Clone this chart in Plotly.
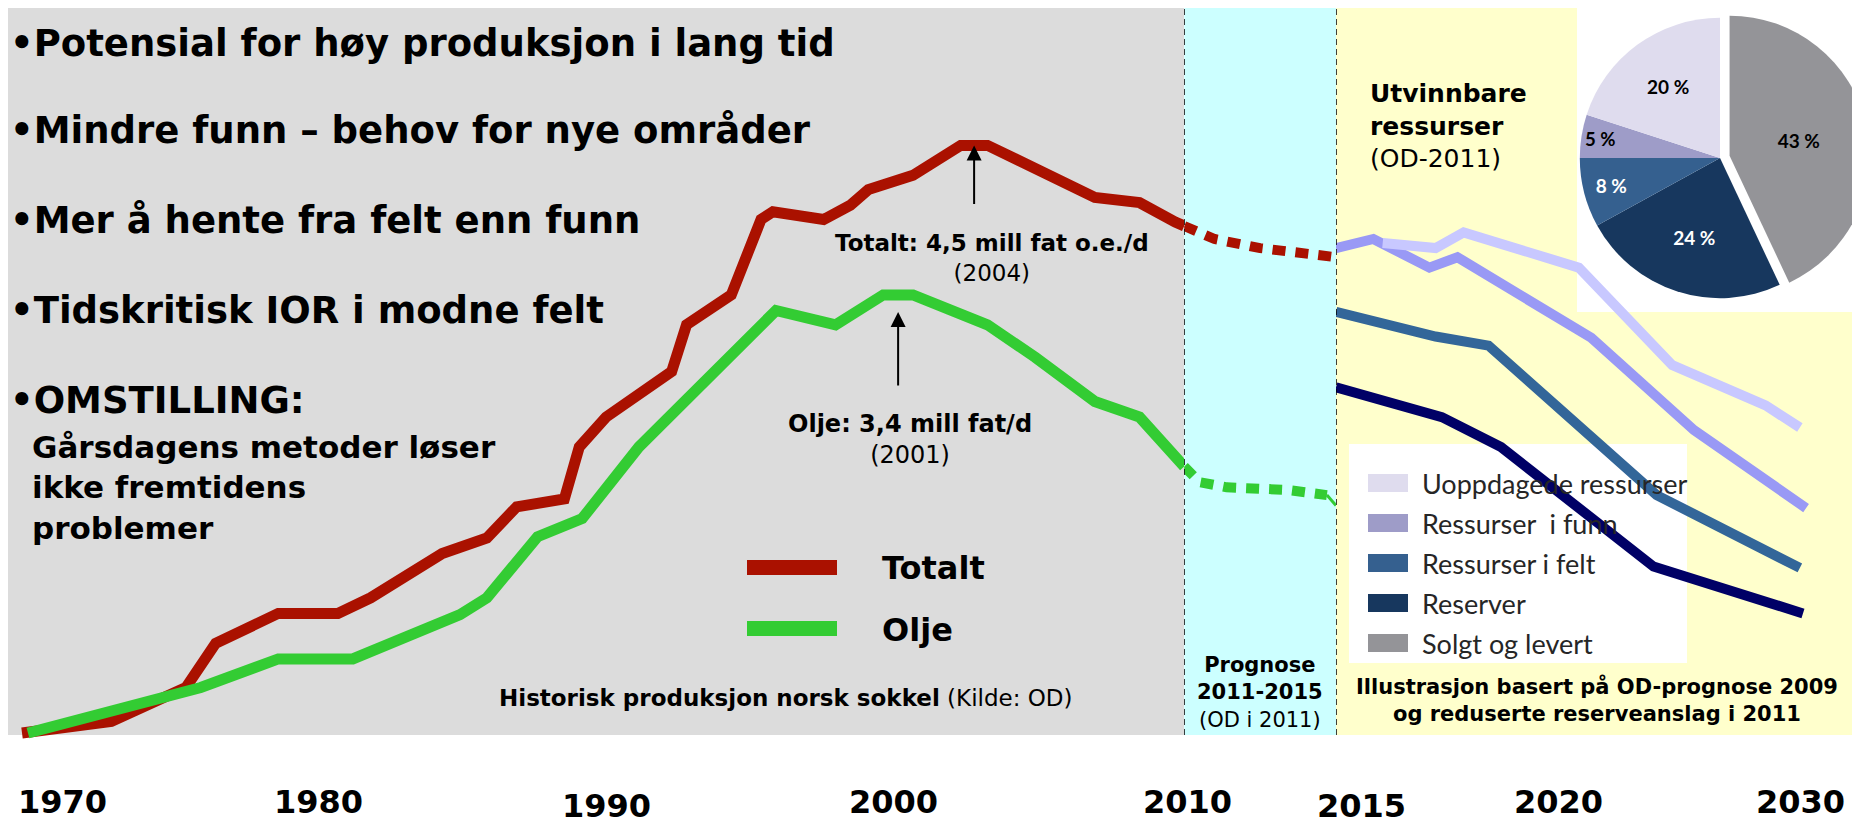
import plotly.graph_objects as go

# --- data (mill fat o.e. per day) ---
total_years = [1971.0, 1974.0, 1976.5, 1977.5, 1979.6, 1981.6, 1982.7, 1985.1, 1986.6, 1987.6,
               1989.2, 1989.7, 1990.6, 1992.8, 1993.3, 1994.8, 1995.8, 1996.2, 1997.9, 1998.8,
               1999.4, 2000.9, 2002.5, 2003.4, 2007.0, 2008.0, 2008.5, 2009.7, 2010.0]
total_prod = [0.00, 0.09, 0.35, 0.69, 0.92, 0.92, 1.04, 1.38, 1.50, 1.74,
              1.80, 2.20, 2.43, 2.78, 3.14, 3.37, 3.95, 4.01, 3.95, 4.06,
              4.18, 4.29, 4.52, 4.52, 4.12, 4.08, 4.08, 3.93, 3.90]

oil_years = [1971.2, 1977.0, 1979.6, 1982.1, 1985.7, 1986.6, 1988.3, 1989.8, 1991.7,
             1996.3, 1998.3, 1999.9, 2000.9, 2003.4, 2005.0, 2007.0, 2008.5, 2010.0]
oil_prod = [0.00, 0.35, 0.57, 0.57, 0.91, 1.04, 1.51, 1.65, 2.20,
            3.25, 3.14, 3.37, 3.37, 3.14, 2.89, 2.55, 2.43, 2.05]

# prognose 2011-2015
total_prog_years = [2010.0, 2011.0, 2012.5, 2015.0]
total_prog = [3.90, 3.80, 3.73, 3.66]
oil_prog_years = [2010.0, 2010.5, 2011.4, 2013.4, 2014.7]
oil_prog = [2.05, 1.93, 1.89, 1.87, 1.83]
oil_tail_years = [2014.7, 2015.0]
oil_tail = [1.83, 1.75]

# illustrasjon 2015-2030
undiscovered_years = [2016.5, 2018.2, 2019.1, 2022.8, 2025.8, 2028.8, 2029.9]
undiscovered = [3.77, 3.73, 3.85, 3.58, 2.83, 2.52, 2.35]
discoveries_years = [2015.0, 2016.2, 2018.0, 2018.9, 2023.2, 2026.5, 2030.1]
discoveries = [3.73, 3.80, 3.58, 3.66, 3.04, 2.33, 1.73]
fields_years = [2015.0, 2018.2, 2019.9, 2025.3, 2029.9]
fields = [3.24, 3.05, 2.98, 1.83, 1.27]
reserves_years = [2015.0, 2018.4, 2020.3, 2025.2, 2030.0]
reserves = [2.66, 2.43, 2.20, 1.28, 0.92]

# utvinnbare ressurser (OD-2011)
pie_labels = ["Solgt og levert", "Reserver", "Ressurser i felt", "Ressurser  i funn", "Uoppdagede ressurser"]
pie_values = [43, 24, 8, 5, 20]
pie_colors = ["#949498", "#17375e", "#35608f", "#9e9cc8", "#dfdcee"]
pie_text_colors = ["black", "white", "white", "black", "black"]
legend_order = ["Uoppdagede ressurser", "Ressurser  i funn", "Ressurser i felt", "Reserver", "Solgt og levert"]

year_labels = ["1970", "1980", "1990", "2000", "2010", "2015", "2020", "2030"]

bullets = ["•Potensial for høy produksjon i lang tid",
           "•Mindre funn – behov for nye områder",
           "•Mer å hente fra felt enn funn",
           "•Tidskritisk IOR i modne felt",
           "•OMSTILLING:"]

# --- layout geometry, in page pixels (the page puts the figure 8px in from the corner) ---
OFF = 8
W, H = 1870, 816
PLOT_BOTTOM = 750          # page y where the drawing area ends
PLOT_H = PLOT_BOTTOM - OFF
HIST_END = 1184.2
PROG_END = 1336
FONT = "DejaVu Sans"

RED = "#aa1100"
GREEN = "#33cc33"


def fx(p):
    return (p - OFF) / W


def fy(p):
    return (PLOT_BOTTOM - p) / PLOT_H


fig = go.Figure()

# historic
fig.add_trace(go.Scatter(x=total_years, y=total_prod, mode="lines",
                         line=dict(color=RED, width=11), xaxis="x", yaxis="y"))
fig.add_trace(go.Scatter(x=oil_years, y=oil_prod, mode="lines",
                         line=dict(color=GREEN, width=11), xaxis="x", yaxis="y"))
# prognose
fig.add_trace(go.Scatter(x=total_prog_years, y=total_prog, mode="lines",
                         line=dict(color=RED, width=10, dash="13px,10px"), xaxis="x2", yaxis="y"))
fig.add_trace(go.Scatter(x=oil_prog_years, y=oil_prog, mode="lines",
                         line=dict(color=GREEN, width=10, dash="13px,10px"), xaxis="x2", yaxis="y"))
fig.add_trace(go.Scatter(x=oil_tail_years, y=oil_tail, mode="lines",
                         line=dict(color=GREEN, width=3), xaxis="x2", yaxis="y"))
# future
for xs, ys, col in [(reserves_years, reserves, "#000066"),
                    (fields_years, fields, "#336699"),
                    (discoveries_years, discoveries, "#9999f5"),
                    (undiscovered_years, undiscovered, "#c8c8ff")]:
    fig.add_trace(go.Scatter(x=xs, y=ys, mode="lines", line=dict(color=col, width=10),
                             xaxis="x3", yaxis="y"))

fig.add_trace(go.Pie(
    labels=pie_labels, values=pie_values, sort=False, direction="clockwise", rotation=0,
    pull=[0.07, 0, 0, 0, 0],
    marker=dict(colors=pie_colors, line=dict(width=0)),
    texttemplate="<b>%{value} %</b>", textposition="inside", insidetextorientation="horizontal",
    textfont=dict(family="Lato", size=19, color=pie_text_colors),
    domain=dict(x=[fx(1570), fx(1870)], y=[fy(308), fy(8)]),
    showlegend=False, hoverinfo="skip"))

shapes = [
    dict(type="rect", xref="x", yref="paper", x0=1970.53, x1=2010, y0=fy(735), y1=1.0,
         fillcolor="#dcdcdc", line_width=0, layer="below"),
    dict(type="rect", xref="x2", yref="paper", x0=2010, x1=2015, y0=fy(735), y1=1.0,
         fillcolor="#ccffff", line_width=0, layer="below"),
    dict(type="rect", xref="x3", yref="paper", x0=2015, x1=2032.41, y0=fy(735), y1=1.0,
         fillcolor="#ffffcc", line_width=0, layer="below"),
    dict(type="rect", xref="paper", yref="paper", x0=fx(1577), x1=1.0, y0=fy(312), y1=1.0,
         fillcolor="white", line_width=0, layer="below"),
    dict(type="rect", xref="paper", yref="paper", x0=fx(1349), x1=fx(1687), y0=fy(663), y1=fy(444),
         fillcolor="white", line_width=0, layer="below"),
    dict(type="line", xref="x2", yref="paper", x0=2010, x1=2010, y0=fy(735), y1=1.0,
         line=dict(color="black", width=1.5, dash="6px,4px"), layer="above"),
    dict(type="line", xref="x3", yref="paper", x0=2015, x1=2015, y0=fy(735), y1=1.0,
         line=dict(color="black", width=1.5, dash="6px,4px"), layer="above"),
    # Totalt / Olje key
    dict(type="rect", xref="paper", yref="paper", x0=fx(747), x1=fx(837), y0=fy(575), y1=fy(560),
         fillcolor=RED, line_width=0, layer="above"),
    dict(type="rect", xref="paper", yref="paper", x0=fx(747), x1=fx(837), y0=fy(636), y1=fy(621),
         fillcolor=GREEN, line_width=0, layer="above"),
]

annotations = []


def note(text, x, y, size, xanchor="left", align="left", family=FONT, color="black"):
    annotations.append(dict(text=text, x=fx(x), y=fy(y), xref="paper", yref="paper",
                            xanchor=xanchor, yanchor="middle", align=align, showarrow=False,
                            font=dict(family=family, size=size, color=color)))


for txt, yp in zip(bullets, [44, 131, 221, 311, 400]):
    note("<b>%s</b>" % txt, 8, yp, 37)
note("<b>Gårsdagens metoder løser<br>ikke fremtidens<br>problemer</b>", 30, 487, 31)

note("<b>Totalt: 4,5 mill fat o.e./d</b><br>(2004)", 992, 258, 23, "center", "center")
note("<b>Olje: 3,4 mill fat/d</b><br>(2001)", 910, 440, 24, "center", "center")
note("<b>Totalt</b>", 880, 568, 32)
note("<b>Olje</b>", 880, 630, 32)
note("<b>Historisk produksjon norsk sokkel</b> (Kilde: OD)", 786, 698, 23, "center")
note("<b>Prognose<br>2011-2015</b><br>(OD i 2011)", 1260, 692, 21, "center", "center")
note("<b>Illustrasjon basert på OD-prognose 2009<br>og reduserte reserveanslag i 2011</b>",
     1597, 700, 21, "center", "center")
note("<b>Utvinnbare<br>ressurser</b><br>(OD-2011)", 1368, 126, 25)

for lab, xp, yp in zip(year_labels, [62, 318, 606, 893, 1187, 1361, 1558, 1800],
                       [802, 802, 806, 802, 802, 806, 802, 802]):
    note("<b>%s</b>" % lab, xp, yp, 32, "center")

# key for the pie
for i, lab in enumerate(legend_order):
    yc = 483 + 40 * i
    col = pie_colors[pie_labels.index(lab)]
    shapes.append(dict(type="rect", xref="paper", yref="paper", x0=fx(1368), x1=fx(1408),
                       y0=fy(yc + 9), y1=fy(yc - 9), fillcolor=col, line_width=0, layer="below"))
    note(lab, 1420, yc, 27, family="Lato", color="#262626")

# peak arrows, anchored on the plateau of each curve
tot_peak = max(total_prod)
tot_peak_x = sum(x for x, v in zip(total_years, total_prod) if v == tot_peak) / total_prod.count(tot_peak)
oil_peak = max(oil_prod)
oil_peak_x = sum(x for x, v in zip(oil_years, oil_prod) if v == oil_peak) / oil_prod.count(oil_peak)
annotations.append(dict(x=tot_peak_x, y=tot_peak, xref="x", yref="y", text="", showarrow=True,
                        ax=0, ay=60, arrowhead=2, arrowsize=1.5, arrowwidth=2, arrowcolor="black"))
annotations.append(dict(x=oil_peak_x, y=oil_peak, xref="x", yref="y", text="", showarrow=True,
                        ax=0, ay=92, standoff=17, arrowhead=2, arrowsize=1.5, arrowwidth=2,
                        arrowcolor="black"))

hidden = dict(visible=False, showgrid=False, zeroline=False, fixedrange=True)
fig.update_layout(
    width=W, height=H,
    margin=dict(l=0, r=0, t=0, b=H - PLOT_H, pad=0),
    paper_bgcolor="white", plot_bgcolor="white",
    showlegend=False,
    xaxis=dict(domain=[0, fx(HIST_END)], range=[1970.53, 2010], anchor="y", **hidden),
    xaxis2=dict(domain=[fx(HIST_END), fx(PROG_END)], range=[2010, 2015], anchor="y", **hidden),
    xaxis3=dict(domain=[fx(PROG_END), 1.0], range=[2015, 2032.41], anchor="y", **hidden),
    yaxis=dict(domain=[0, 1], range=[(733 - PLOT_BOTTOM) / 130, (733 - OFF) / 130], **hidden),
    shapes=shapes,
    annotations=annotations,
    font=dict(family=FONT),
)

fig.write_html("out.html")
